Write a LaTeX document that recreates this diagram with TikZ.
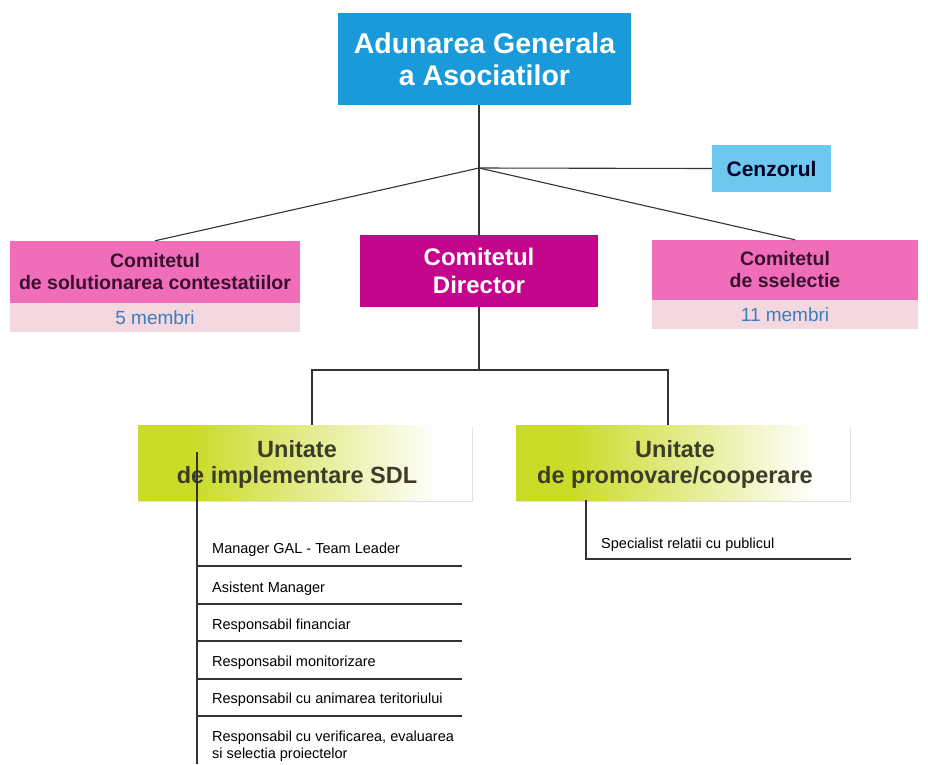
\documentclass[tikz,border=0pt]{standalone}
\usepackage{fontspec}
\setmainfont{Liberation Sans}
\usepackage{tikz}
\usetikzlibrary{calc}
\usetikzlibrary{positioning}
\usetikzlibrary{shadows}

\definecolor{agablue}{RGB}{26,154,217}
\definecolor{cenzblue}{RGB}{110,199,238}
\definecolor{dirmag}{RGB}{196,6,140}
\definecolor{compink}{RGB}{240,110,185}
\definecolor{bandpink}{RGB}{243,216,224}
\definecolor{membblue}{RGB}{58,126,192}
\definecolor{unitgreen}{RGB}{202,219,40}
\definecolor{unittext}{RGB}{60,60,40}
\definecolor{comtext}{RGB}{58,16,48}

\pgfdeclarehorizontalshading{unitshade}{100bp}{color(0bp)=(unitgreen); color(25bp)=(unitgreen);
	color(33bp)=(unitgreen); color(70bp)=(white); color(100bp)=(white)}

\begin{document}
\begin{tikzpicture}
	[
	x=1pt, y=-1pt,
	conn/.style = {line width=1.1pt, draw=black!80},
	box/.style = {inner sep=0pt, align=center, font=\bfseries},
	band/.style = {inner sep=0pt, fill=bandpink, text=membblue},
	unit/.style = {inner sep=0pt, minimum width=334pt, minimum height=75pt, shading=unitshade,
		drop shadow={shadow xshift=1pt, shadow yshift=-1.5pt, fill=black!25}},
	unittitle/.style = {align=center, inner sep=0pt, xshift=-8pt, yshift=-2pt, text=unittext,
		font=\bfseries\fontsize{23.5}{26.5}\selectfont},
	post/.style = {anchor=base west, inner sep=0pt, align=left, font=\fontsize{14.5}{17}\selectfont}
	]

	\useasboundingbox (0,0) rectangle (928,764);

	% top
	\node[box, fill=agablue, text=white, minimum width=293pt, minimum height=92pt,
		font=\bfseries\fontsize{28.5}{32}\selectfont] (aga) at (484.5,59) {Adunarea Generala\\a Asociatilor};
	\node[box, fill=cenzblue, text=black!85!blue, minimum width=119pt, minimum height=47pt,
		font=\bfseries\fontsize{21}{24}\selectfont] (cenz) at (771.5,168.5) {Cenzorul};

	% comitete
	\node[box, fill=dirmag, text=white, minimum width=238pt, minimum height=72pt,
		font=\bfseries\fontsize{24}{28}\selectfont] (dir) at (479,271) {Comitetul\\Director};
	\node[box, fill=compink, text=comtext, minimum width=290pt, minimum height=62pt,
		font=\bfseries\fontsize{19.5}{22}\selectfont] (lcom) at (155,272) {Comitetul\\de solutionarea contestatiilor};
	\node[band, minimum width=290pt, minimum height=29pt, font=\fontsize{19}{20}\selectfont,
		below=0pt of lcom] (lmemb) {5 membri};
	\node[box, fill=compink, text=comtext, minimum width=266pt, minimum height=60pt,
		font=\bfseries\fontsize{19.5}{22}\selectfont] (rcom) at (785,270) {Comitetul\\de sselectie};
	\node[band, minimum width=266pt, minimum height=29pt, font=\fontsize{19}{20}\selectfont,
		below=0pt of rcom] (rmemb) {11 membri};

	% unitati
	\node[unit, label={[unittitle]center:Unitate\\de implementare SDL}] (uimp) at (305,462.5) {};
	\node[unit, label={[unittitle]center:Unitate\\de promovare/cooperare}] (uprom) at (683,462.5) {};

	\coordinate (hub) at (479,168);
	\coordinate (split) at (479,370);

	\draw[conn] (hub |- aga.south) -- (hub);
	\draw[conn] (hub) -- (cenz.west);
	\draw[conn] (hub) -- (lcom.north);
	\draw[conn] (hub) -- ([xshift=10pt]rcom.north);
	\draw[conn] (hub) -- (dir.north);
	\draw[conn] (dir.south) -- (split);
	\draw[conn] ([xshift=7pt]uimp.north) |- (split) -| ([xshift=-15pt]uprom.north);

	% implementare
	\coordinate (spinetop) at (197,452);
	\coordinate (spinebot) at (197,764);
	\draw[conn] (spinetop) -- (spinebot);

	\node[post] (p1) at (212,553) {Manager GAL - Team Leader};
	\node[post] (p2) at (212,592) {Asistent Manager};
	\node[post] (p3) at (212,629) {Responsabil financiar};
	\node[post] (p4) at (212,666) {Responsabil monitorizare};
	\node[post] (p5) at (212,703) {Responsabil cu animarea teritoriului};
	\node[post] (p6) at (212,758) {Responsabil cu verificarea, evaluarea\\si selectia proiectelor};

	\draw[conn] (197,566) -- (462,566);
	\draw[conn] (197,604) -- (462,604);
	\draw[conn] (197,641) -- (462,641);
	\draw[conn] (197,679) -- (462,679);
	\draw[conn] (197,716) -- (462,716);

	% promovare
	\coordinate (pcorner) at (586,559);
	\coordinate (pend) at (851,559);
	\draw[conn] (pcorner |- uprom.south) -- (pcorner) -- (pend);
	\node[post] (s1) at (601,548) {Specialist relatii cu publicul};

\end{tikzpicture}
\end{document}
